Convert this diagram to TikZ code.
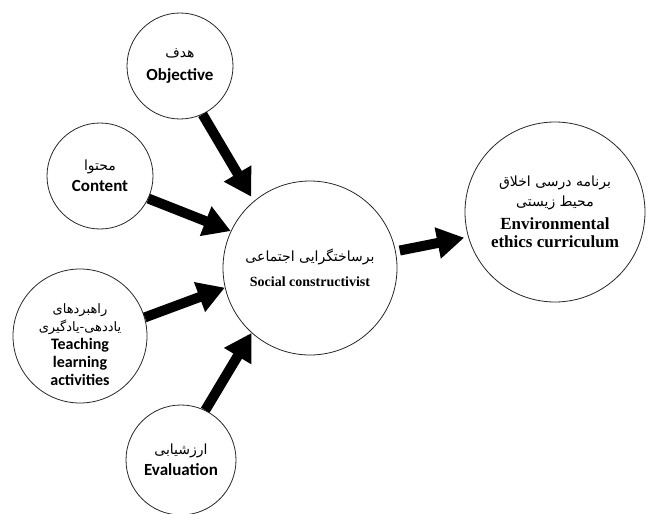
\documentclass[tikz,border=0pt]{standalone}
\usepackage{fontspec}
\setmainfont{Liberation Serif}
\newfontfamily\calfont{Carlito}
\newfontfamily\farsi[Script=Arabic]{DejaVu Sans}
\TeXXeTstate=1
\usetikzlibrary{arrows.meta}
\newcommand{\fatxt}[2][14]{{\farsi\fontsize{#1}{#1}\selectfont\beginR #2\endR}}
\newcommand{\entxt}[1]{{\calfont\bfseries #1}}

\begin{document}
\begin{tikzpicture}[x=1pt,y=-1pt,
  part/.style={circle,draw=black!85,line width=0.8pt,align=center,inner sep=0pt},
  flow/.style={line width=10pt,-{Triangle[length=27pt,width=30pt]}}]
  \useasboundingbox (0,0) rectangle (657,514);

  % Inputs
  \node[part,minimum size=106pt,font=\fontsize{17}{23}\selectfont] (objective) at (180,66)
    {\fatxt{هدف}\\ \entxt{Objective}};
  \node[part,minimum size=106pt,font=\fontsize{17}{21}\selectfont] (content) at (100,176)
    {\fatxt{محتوا}\\ \entxt{Content}};
  \node[part,minimum size=134pt,font=\fontsize{16}{18}\selectfont] (teaching) at (80,336)
    {\rule{0pt}{28pt}\fatxt[13]{راهبردهای}\\ \fatxt[13]{یاددهی-یادگیری}\\ \entxt{Teaching}\\ \entxt{learning}\\ \entxt{activities}};
  \node[part,minimum size=110pt,font=\fontsize{17}{21}\selectfont] (evaluation) at (181,460)
    {\fatxt{ارزشیابی}\\ \entxt{Evaluation}};

  % Centre
  \node[part,minimum size=174pt,font=\fontsize{14}{25}\selectfont] (central) at (310,268)
    {\fatxt{برساختگرایی اجتماعی}\\ {\bfseries Social constructivist}};

  % Output
  \node[part,minimum size=180pt,font=\fontsize{17}{18}\selectfont] (curriculum) at (555,212)
    {\fatxt{برنامه درسی اخلاق}\\[2pt] \fatxt{محیط زیستی}\\[5pt] {\bfseries Environmental}\\ {\bfseries ethics curriculum}};

  % Arrows
  \draw[flow,shorten >=5pt] (objective.-65) -- (central.130);
  \draw[flow] (content.-25) -- (central.155);
  \draw[flow] (teaching.16) -- (central.193);
  \draw[flow] (evaluation.64) -- (central.228);
  \draw[flow,shorten <=4pt,shorten >=4pt] (central.11) -- (curriculum.196);
\end{tikzpicture}
\end{document}
